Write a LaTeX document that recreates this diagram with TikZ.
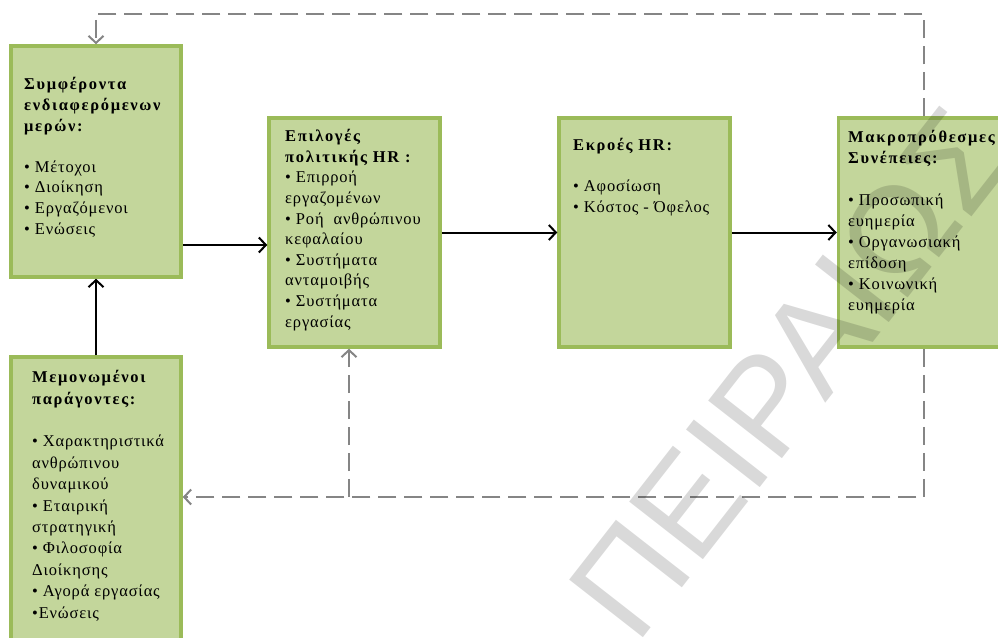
\documentclass[tikz,border=0pt]{standalone}
\usepackage{fontspec}
\setmainfont{Liberation Serif}[LetterSpace=5, BoldFeatures={LetterSpace=10}]
\newfontfamily\wmfont{Liberation Sans}
\usetikzlibrary{arrows.meta}
\definecolor{boxfill}{HTML}{C3D69B}
\definecolor{boxline}{HTML}{9BBB59}
\definecolor{dashgray}{HTML}{858585}
\tikzset{
  box/.style={draw=boxline, fill=boxfill, line width=3.5pt, inner sep=0},
  txt/.style={anchor=base west, align=left, inner sep=0, font=\fontsize{16.5}{20.6}\selectfont},
  solidarrow/.style={line width=2pt, -{Straight Barb[length=7pt,width=15pt,line width=2pt]}},
  dasharrow/.style={dashgray, line width=2.5pt, dash pattern=on 18pt off 8pt, -{Straight Barb[length=7pt,width=15pt,line width=2pt]}},
  wm/.style={text=black, text opacity=0.15, font=\wmfont\fontsize{136}{136}\selectfont, rotate=52, inner sep=0}
}
\begin{document}
\begin{tikzpicture}[x=1pt,y=-1pt]
\useasboundingbox (0,0) rectangle (998,637);
\clip (0,0) rectangle (998,637);
% boxes
\node[box, minimum width=170pt, minimum height=231pt] (b1) at (96,161.5) {};
\node[box, minimum width=171pt, minimum height=229pt] (b2) at (354.5,232.5) {};
\node[box, minimum width=171pt, minimum height=229pt] (b3) at (644.5,232.5) {};
\node[box, minimum width=171pt, minimum height=229pt] (b4) at (924,232.5) {};
\node[box, minimum width=170pt, minimum height=303pt] (b5) at (96,508.5) {};
% texts (anchored at the baseline of their last line)
\node[txt] (t1) at (24,234) {\textbf{Συμφέροντα}\\ \textbf{ενδιαφερόμενων}\\ \textbf{μερών:}\\[20.6pt] • Μέτοχοι\\ • Διοίκηση\\ • Εργαζόμενοι\\ • Ενώσεις};
\node[txt] (t2) at (285,327) {\textbf{Επιλογές}\\ \textbf{πολιτικής HR :}\\ • Επιρροή\\ εργαζομένων\\ • Ροή \ ανθρώπινου\\ κεφαλαίου\\ • Συστήματα\\ ανταμοιβής\\ • Συστήματα\\ εργασίας};
\node[txt] (t3) at (573,212) {\textbf{Εκροές HR:}\\[20.6pt] • Αφοσίωση\\ • Κόστος - Όφελος};
\node[txt, font=\fontsize{16.5}{20.9}\selectfont] (t4) at (848,310) {\textbf{Μακροπρόθεσμες}\\ \textbf{Συνέπειες:}\\[20.9pt] • Προσωπική\\ ευημερία\\ • Οργανωσιακή\\ επίδοση\\ • Κοινωνική\\ ευημερία};
\node[txt, font=\fontsize{16.5}{21.4}\selectfont] (t5) at (32,618) {\textbf{Μεμονωμένοι}\\ \textbf{παράγοντες:}\\[21.4pt] • Χαρακτηριστικά\\ ανθρώπινου\\ δυναμικού\\ • Εταιρική\\ στρατηγική\\ • Φιλοσοφία\\ Διοίκησης\\ • Αγορά εργασίας\\ •Ενώσεις};
% solid connectors
\coordinate (y1) at (0,245);
\draw[solidarrow] (b1.east |- y1) -- (b2.west |- y1);
\draw[solidarrow] (b2.east) -- (b3.west);
\draw[solidarrow] (b3.east) -- (b4.west);
\draw[solidarrow] (b5.north) -- (b1.south);
% dashed feedback
\coordinate (top) at (0,14);
\coordinate (bot) at (0,497);
\coordinate (br) at (349,497);
\draw[dasharrow] (b4.north) -- (b4.north |- top) -| (b1.north);
\draw[dasharrow] (b4.south) -- (b4.south |- bot) -- (b5.east |- bot);
\draw[dasharrow] (br) -- (br |- b2.south);
% watermark
\node[wm] (wmark) at (790,372) {ΠΕΙΡΑΙΩΣ};
\end{tikzpicture}
\end{document}
